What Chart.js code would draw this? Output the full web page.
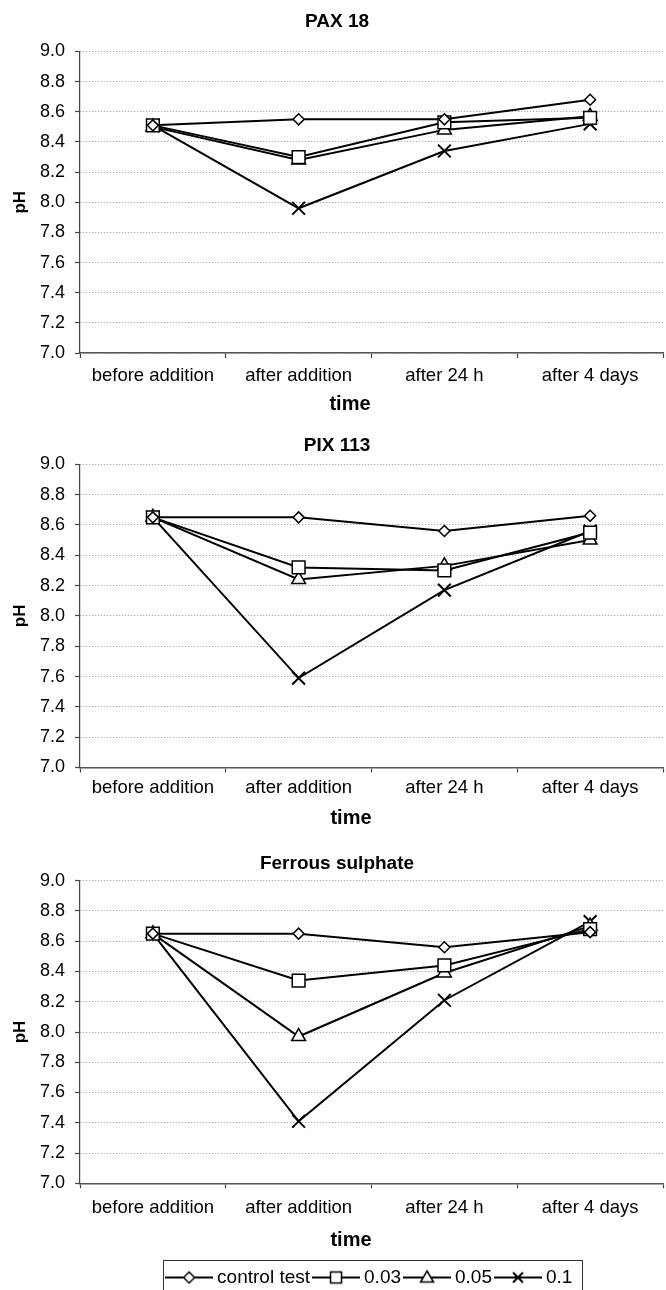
<!DOCTYPE html>
<html>
<head>
<meta charset="utf-8">
<script src="https://cdn.jsdelivr.net/npm/chart.js"></script>
<style>
html, body { margin:0; padding:0; background:#fff; width:666px; height:1290px; overflow:hidden; }
canvas { position:absolute; left:0; }
</style>
</head>
<body>
<canvas id="c1" width="674" height="418" style="top:0px;width:674px;height:418px"></canvas>
<canvas id="c2" width="674" height="414" style="top:418px;width:674px;height:414px"></canvas>
<canvas id="c3" width="674" height="465" style="top:832px;width:674px;height:465px"></canvas>
<script>
// ---------- data ----------
const categories = ['before addition', 'after addition', 'after 24 h', 'after 4 days'];
const seriesNames = ['control test', '0.03', '0.05', '0.1'];
const yTicks = [7.0, 7.2, 7.4, 7.6, 7.8, 8.0, 8.2, 8.4, 8.6, 8.8, 9.0];

const pax18Control = [8.51, 8.55, 8.55, 8.68];
const pax18Dose003 = [8.51, 8.30, 8.53, 8.56];
const pax18Dose005 = [8.50, 8.28, 8.48, 8.57];
const pax18Dose01  = [8.51, 7.96, 8.34, 8.52];

const pix113Control = [8.65, 8.65, 8.56, 8.66];
const pix113Dose003 = [8.65, 8.32, 8.30, 8.55];
const pix113Dose005 = [8.65, 8.24, 8.33, 8.50];
const pix113Dose01  = [8.65, 7.59, 8.17, 8.56];

const ferrousControl = [8.65, 8.65, 8.56, 8.66];
const ferrousDose003 = [8.65, 8.34, 8.44, 8.68];
const ferrousDose005 = [8.65, 7.97, 8.39, 8.70];
const ferrousDose01  = [8.65, 7.41, 8.21, 8.73];

// ---------- styles ----------
const FONT = "'Liberation Sans', Arial, Helvetica, sans-serif";
Chart.defaults.font.family = FONT;
Chart.defaults.color = '#000';

const markerStyles = ['rectRot', 'rect', 'triangle', 'crossRot'];
const markerRadii = [5.5, 9, 8, 9];
const markerBorder = [1.5, 1.5, 1.5, 2];

// legend icons: line with marker in the middle
function makeIcon(kind) {
  const c = document.createElement('canvas');
  c.width = 48; c.height = 20;
  const g = c.getContext('2d');
  g.strokeStyle = '#000'; g.lineWidth = 2;
  g.beginPath(); g.moveTo(0, 10); g.lineTo(48, 10); g.stroke();
  g.fillStyle = '#fff'; g.lineWidth = 1.5;
  g.beginPath();
  const cx = 24, cy = 10;
  if (kind === 0) { g.moveTo(cx - 5.5, cy); g.lineTo(cx, cy - 5.5); g.lineTo(cx + 5.5, cy); g.lineTo(cx, cy + 5.5); g.closePath(); g.fill(); g.stroke(); }
  else if (kind === 1) { g.rect(cx - 5.5, cy - 5.5, 11, 11); g.fill(); g.stroke(); }
  else if (kind === 2) { g.moveTo(cx, cy - 6.5); g.lineTo(cx + 6.5, cy + 4.5); g.lineTo(cx - 6.5, cy + 4.5); g.closePath(); g.fill(); g.stroke(); }
  else { g.lineWidth = 2; g.moveTo(cx - 5, cy - 5); g.lineTo(cx + 5, cy + 5); g.moveTo(cx + 5, cy - 5); g.lineTo(cx - 5, cy + 5); g.stroke(); }
  return c;
}
const legendIcons = [0, 1, 2, 3].map(makeIcon);

// shift the x-axis title centre to a chosen x
const timeShift = (cx) => ({
  id: 'timeShift',
  afterLayout(chart) {
    const s = chart.scales.x;
    if (s.__patched) return;
    const orig = s.drawTitle;
    s.drawTitle = function () {
      const r = this.right;
      this.right = 2 * cx - this.left;
      orig.call(this);
      this.right = r;
    };
    s.__patched = true;
  }
});

const legendBox = {
  id: 'legendBox',
  afterDraw(chart) {
    const lg = chart.legend;
    if (!lg || !lg.legendHitBoxes || !lg.legendHitBoxes.length) return;
    const hb = lg.legendHitBoxes;
    const first = hb[0], last = hb[hb.length - 1];
    const x1 = first.left - 7.5;
    const x2 = last.left + last.width + 10;
    const cy = first.top + first.height / 2;
    const ctx = chart.ctx;
    ctx.save();
    ctx.strokeStyle = '#333';
    ctx.lineWidth = 1;
    ctx.strokeRect(Math.round(x1) + 0.5, Math.round(cy - 18) + 0.5, Math.round(x2 - x1), 60);
    ctx.restore();
  }
};

function makeChart(id, titleText, series, L, withLegend) {
  const datasets = series.map((vals, i) => ({
    label: seriesNames[i],
    data: vals,
    borderColor: '#000',
    borderWidth: 2,
    backgroundColor: '#fff',
    fill: false,
    tension: 0,
    pointStyle: markerStyles[i],
    pointRadius: markerRadii[i],
    pointBackgroundColor: '#fff',
    pointBorderColor: '#000',
    pointBorderWidth: markerBorder[i]
  }));
  const plugins = [timeShift(L.timeX)];
  if (withLegend) plugins.push(legendBox);
  return new Chart(document.getElementById(id), {
    type: 'line',
    data: { labels: categories, datasets },
    options: {
      responsive: false,
      animation: false,
      events: [],
      layout: { padding: 0 },
      plugins: {
        title: {
          display: true, text: titleText, color: '#000',
          font: { family: FONT, size: 19, weight: 'bold' },
          padding: { top: L.tpt, bottom: L.tpb }
        },
        legend: withLegend ? {
          display: true, position: 'bottom', fullSize: false, align: 'center',
          labels: {
            usePointStyle: true, pointStyleWidth: 37, padding: 7.5,
            font: { family: FONT, size: 19 }, color: '#000',
            generateLabels: (chart) => chart.data.datasets.map((ds, i) => ({
              text: ds.label, pointStyle: legendIcons[i], fillStyle: '#fff',
              strokeStyle: '#000', lineWidth: 0, hidden: false, datasetIndex: i, fontColor: '#000'
            }))
          }
        } : { display: false },
        tooltip: { enabled: false }
      },
      scales: {
        x: {
          type: 'category', offset: true,
          grid: { display: true, offset: true, drawOnChartArea: false, drawTicks: true, tickLength: 5, tickColor: '#444', tickWidth: 1.2 },
          border: { display: true, color: '#555', width: 1.5 },
          ticks: { font: { family: FONT, size: 18.5 }, color: '#000', padding: L.xpad, maxRotation: 0, minRotation: 0, autoSkip: false },
          title: { display: true, text: 'time', color: '#000', font: { family: FONT, size: 20, weight: 'bold' }, padding: { top: 0, bottom: L.xtpb } },
          afterFit(s) { s.height = L.xh; }
        },
        y: {
          type: 'linear', min: 7, max: 9,
          afterBuildTicks(s) { s.ticks = yTicks.map(v => ({ value: v })); },
          ticks: { font: { family: FONT, size: 18 }, color: '#000', padding: 10, callback: (v) => Number(v).toFixed(1) },
          grid: { color: '#999', lineWidth: 1, drawTicks: true, tickLength: 5, tickColor: '#444', tickWidth: 1.2 },
          border: { display: true, color: '#444', width: 1.2, dash: [1, 2] },
          title: { display: true, text: 'pH', color: '#000', font: { family: FONT, size: 17, weight: 'bold' }, padding: { top: 9.8, bottom: 0 } },
          afterFit(s) { s.width = 80; }
        }
      }
    },
    plugins
  });
}

makeChart('c1', 'PAX 18', [pax18Control, pax18Dose003, pax18Dose005, pax18Dose01],
  { tpt: 10.6, tpb: 18.1, xpad: 6.4, xh: 65, xtpb: 2, timeX: 350 }, false);
makeChart('c2', 'PIX 113', [pix113Control, pix113Dose003, pix113Dose005, pix113Dose01],
  { tpt: 16.1, tpb: 7.4, xpad: 4.7, xh: 64.5, xtpb: 2, timeX: 351 }, false);
makeChart('c3', 'Ferrous sulphate', [ferrousControl, ferrousDose003, ferrousDose005, ferrousDose01],
  { tpt: 20.6, tpb: 5.3, xpad: 8.6, xh: 77.2, xtpb: 8, timeX: 351 }, true);
</script>
</body>
</html>
